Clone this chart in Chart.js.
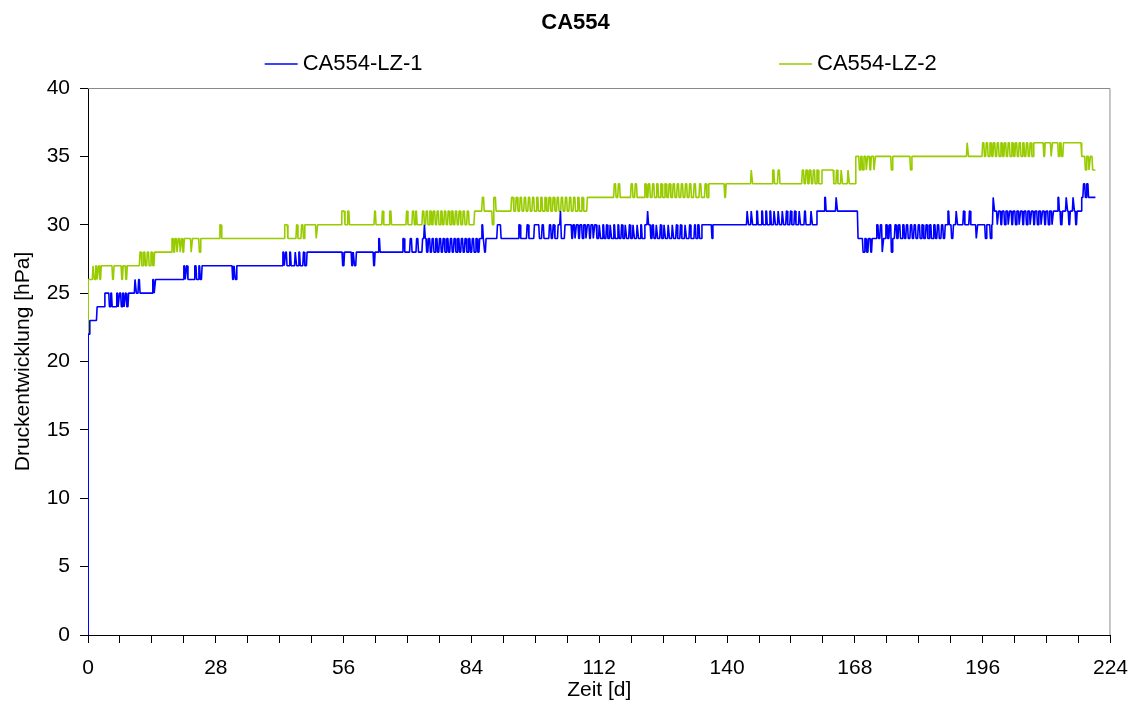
<!DOCTYPE html>
<html>
<head>
<meta charset="utf-8">
<script src="https://cdn.jsdelivr.net/npm/chart.js@4/dist/chart.umd.min.js"></script>
<style>
  html, body { margin: 0; padding: 0; background: #ffffff; }
  #wrap { width: 1141px; height: 706px; position: relative; }
</style>
</head>
<body>
<div id="wrap"><canvas id="chart"></canvas></div>
<script>
// Axis tick labels
const xTickLabels = [0, 28, 56, 84, 112, 140, 168, 196, 224];
const yTickLabels = [0, 5, 10, 15, 20, 25, 30, 35, 40];

// CA554-LZ-1: pressure steps (day where a new reading starts, reading in hPa)
const lz1Days = [
  0, 0.1, 0.4, 2.0,
  3.7, 4.7, 5.0, 5.3, 6.3, 6.6, 6.9, 7.3, 7.6, 7.9, 8.2, 8.5, 8.9,
  10.3, 10.6, 11.1, 11.4, 14.2, 14.5, 14.8,
  21.0, 21.3, 21.6, 21.9, 23.4, 23.8, 24.3, 24.6, 25.0, 31.7, 32.0, 32.3, 32.6,
  42.7, 43.0, 43.3, 43.6, 44.2, 44.5, 45.4, 45.7, 46.2, 46.5, 47.2, 47.5, 48.0,
  55.8, 56.2, 57.8, 58.1, 58.4, 58.8, 62.6, 62.9, 63.7, 64.0,
  69.0, 69.4, 70.6, 71.0, 72.0, 72.4, 73.3, 73.7, 73.9,
  74.2, 74.6, 75.0, 75.4, 75.8, 76.2, 76.6, 77.0, 77.4, 77.8, 78.2, 78.6, 79.0, 79.4, 79.8,
  80.2, 80.6, 81.0, 81.4, 81.8, 82.2, 82.6, 83.0, 83.4, 83.8, 84.2, 84.6, 85.0, 85.4, 85.8,
  86.3, 86.6, 86.9, 87.2, 89.7, 90.5,
  94.4, 94.8, 96.2, 96.6, 97.8, 98.9, 99.5, 99.9, 101.1, 101.5, 101.9, 102.3, 103.0, 103.5, 103.7, 104.5,
  106.0, 106.3, 106.7, 107.0, 107.5, 107.8, 108.3, 108.6, 109.1, 109.4, 109.9, 110.2, 110.7, 111.0, 111.5,
  112.0, 112.3, 112.8, 113.1, 113.6, 113.9, 114.4, 114.7, 115.2, 115.5, 116.1, 116.4, 116.9,
  117.2, 117.7, 118.0, 118.6, 118.9, 119.4, 119.7, 120.3, 120.6, 121.1, 121.4, 122.0,
  122.6, 122.8, 123.3,
  123.7, 124.0, 124.5, 124.8, 125.4, 125.7, 126.2, 126.5, 127.1, 127.4, 128.0, 128.3, 128.9,
  129.2, 129.8, 130.1, 130.8, 131.1, 131.8, 132.1, 132.9, 133.2, 133.6, 134.0, 134.5,
  136.7, 136.9,
  144.4, 144.7, 145.3, 145.6, 146.5, 146.8, 147.6, 147.9, 148.5, 148.8, 149.4, 149.7, 150.3, 150.6, 151.2, 151.5,
  152.1, 152.4, 153.0, 153.3, 153.9, 154.2, 154.8, 155.1, 155.8, 156.1, 157.0, 157.3, 158.4, 158.7, 159.7,
  161.4, 161.7, 163.9, 164.2, 168.7,
  169.8, 170.2, 170.6, 171.0, 171.5, 171.8,
  172.8, 173.2, 173.6, 174.0, 174.3, 174.8, 175.2, 175.6, 176.0, 176.3,
  176.8, 177.2, 177.6, 178.0, 178.5, 178.9, 179.3, 179.7, 180.2, 180.6, 181.0, 181.4, 181.9, 182.3,
  182.7, 183.1, 183.6, 184.0, 184.4, 184.8, 185.3, 185.7, 186.1, 186.5, 187.0, 187.4, 187.8,
  188.4, 188.7, 189.2, 189.6, 190.2, 190.5, 191.8, 192.1, 193.1, 193.4, 194.6, 194.9, 196.6, 196.9, 197.7, 198.0, 198.3, 198.6,
  199.2, 199.5, 200.0, 200.3, 200.8, 201.1, 201.6, 201.9, 202.4, 202.7, 203.2, 203.5, 204.0, 204.3, 204.8, 205.1,
  205.6, 205.9, 206.4, 206.7, 207.2, 207.5, 208.0, 208.3, 208.8, 209.1, 209.6, 209.9, 210.4, 210.7, 211.2, 211.5,
  212.5, 212.8, 213.1, 213.5, 214.3, 214.6, 214.9, 215.2, 215.8, 216.1, 216.4, 216.7, 217.7, 218.1, 218.5, 218.8, 219.2, 220.7
];
const lz1Values = [
  0, 22, 23, 24,
  25, 24, 25, 24, 25, 24, 25, 24, 25, 24, 25, 24, 25,
  26, 25, 26, 25, 26, 25, 26,
  27, 26, 27, 26, 27, 26, 27, 26, 27, 26, 27, 26, 27,
  28, 27, 28, 27, 28, 27, 28, 27, 28, 27, 28, 27, 28,
  27, 28, 27, 28, 27, 28, 27, 28, 29, 28,
  29, 28, 29, 28, 29, 28, 29, 30, 29,
  28, 29, 28, 29, 28, 29, 28, 29, 28, 29, 28, 29, 28, 29, 28,
  29, 28, 29, 28, 29, 28, 29, 28, 29, 28, 29, 28, 29, 28, 29,
  30, 29, 28, 29, 30, 29,
  30, 29, 30, 29, 30, 29, 30, 29, 30, 29, 30, 29, 30, 31, 29, 30,
  29, 30, 29, 30, 29, 30, 29, 30, 29, 30, 29, 30, 29, 30, 29,
  30, 29, 30, 29, 30, 29, 30, 29, 30, 29, 30, 29, 30,
  29, 30, 29, 30, 29, 30, 29, 30, 29, 30, 29, 30,
  31, 30, 29,
  30, 29, 30, 29, 30, 29, 30, 29, 30, 29, 30, 29, 30,
  29, 30, 29, 30, 29, 30, 29, 30, 29, 30, 29, 30,
  29, 30,
  31, 30, 31, 30, 31, 30, 31, 30, 31, 30, 31, 30, 31, 30, 31, 30,
  31, 30, 31, 30, 31, 30, 31, 30, 31, 30, 31, 30, 31, 30, 31,
  32, 31, 32, 31, 29,
  28, 29, 28, 29, 28, 29,
  30, 29, 30, 28, 29, 30, 29, 30, 28, 29,
  30, 29, 30, 29, 30, 29, 30, 29, 30, 29, 30, 29, 30, 29,
  30, 29, 30, 29, 30, 29, 30, 29, 30, 29, 30, 29, 30,
  31, 30, 29, 30, 31, 30, 31, 30, 31, 30, 29, 30, 29, 30, 29, 30, 32, 31,
  30, 31, 30, 31, 30, 31, 30, 31, 30, 31, 30, 31, 30, 31, 30, 31,
  30, 31, 30, 31, 30, 31, 30, 31, 30, 31, 30, 31, 30, 31, 30, 31,
  32, 31, 30, 31, 32, 31, 30, 31, 32, 31, 30, 31, 32, 33, 32, 33, 32, 32
];

// CA554-LZ-2: pressure steps (day where a new reading starts, reading in hPa)
const lz2Days = [
  0, 0.1,
  1.1, 1.4, 1.7, 2.0, 2.3, 2.6, 2.9, 5.4, 5.7, 7.4, 7.7, 8.3, 8.6,
  11.4, 11.8, 12.2, 12.6, 13.0, 13.4, 13.8, 14.2, 14.6,
  18.4, 18.8, 19.1, 19.5, 19.8, 20.2, 20.5, 20.8, 21.1, 22.6, 22.9, 24.4, 24.7, 28.9, 29.3,
  43.1, 43.8, 45.7, 46.0, 46.8, 47.2, 47.5, 50.0, 50.3,
  55.6, 56.3, 56.9, 57.3, 62.8, 63.1, 64.5, 64.8, 66.1, 66.5, 69.8, 70.1, 71.1, 71.5, 71.8, 72.1,
  73.3, 73.7, 74.1, 74.5, 74.9, 75.3, 75.7, 76.1, 76.5, 76.9, 77.3, 77.7, 78.1, 78.5,
  78.9, 79.3, 79.7, 80.1, 80.5, 80.9, 81.3, 81.7, 82.2, 82.6, 83.1, 83.5, 84.7,
  86.4, 86.8, 88.6, 88.9, 89.4,
  92.8, 93.3, 93.8, 94.2, 94.7, 95.1, 95.6, 96.0, 96.5, 96.9, 97.4, 97.8, 98.3, 98.7, 99.2, 99.6, 100.1, 100.5, 101.0,
  101.4, 101.9, 102.3, 102.8, 103.2, 103.7, 104.1, 104.6, 105.0, 105.5, 105.9, 106.4, 106.8, 107.3, 107.7, 108.2, 108.6, 109.4,
  115.3, 115.7, 116.2, 116.6, 119.0, 119.4, 119.9, 120.3,
  122.0, 122.4, 122.8, 123.2, 123.7, 124.1, 124.6, 125.0, 125.5, 125.9, 126.4, 126.8, 127.3, 127.7, 128.2, 128.6,
  129.1, 129.5, 130.0, 130.4, 130.9, 131.3, 131.8, 132.2, 132.8, 133.2, 134.0, 134.4, 135.2, 135.6, 136.0,
  139.5, 139.8, 145.3, 145.6, 150.0, 150.4, 151.2, 151.6,
  156.5, 156.9, 157.3, 157.7, 158.1, 158.5, 158.9, 159.3, 159.7, 160.1, 160.8, 163.4, 164.0, 164.3, 165.0, 165.3, 166.5, 166.8,
  168.2, 169.0, 169.3, 169.7, 170.0, 170.5, 170.8, 171.3, 171.6, 172.2, 172.5, 176.0, 176.3, 180.2, 180.5,
  192.6, 192.9, 196.0, 196.4, 196.8, 197.2, 197.6, 198.0, 198.4, 198.8, 199.2, 199.6, 200.0, 200.4, 200.8, 201.2,
  201.6, 202.0, 202.4, 202.8, 203.2, 203.6, 204.0, 204.4, 204.8, 205.2, 205.6, 206.0, 206.4, 206.8, 207.2,
  209.4, 209.7, 211.0, 211.3, 212.6, 212.9, 213.3, 213.7, 217.7, 218.5, 218.8, 219.3, 219.6, 220.1, 220.7
];
const lz2Values = [
  0, 26,
  27, 26, 27, 26, 27, 26, 27, 26, 27, 26, 27, 26, 27,
  28, 27, 28, 27, 28, 27, 28, 27, 28,
  29, 28, 29, 28, 29, 28, 29, 28, 29, 28, 29, 28, 29, 30, 29,
  30, 29, 30, 29, 30, 29, 30, 29, 30,
  31, 30, 31, 30, 31, 30, 31, 30, 31, 30, 31, 30, 31, 30, 31, 30,
  31, 30, 31, 30, 31, 30, 31, 30, 31, 30, 31, 30, 31, 30,
  31, 30, 31, 30, 31, 30, 31, 30, 31, 30, 31, 30, 31,
  32, 31, 30, 32, 31,
  32, 31, 32, 31, 32, 31, 32, 31, 32, 31, 32, 31, 32, 31, 32, 31, 32, 31, 32,
  31, 32, 31, 32, 31, 32, 31, 32, 31, 32, 31, 32, 31, 32, 31, 32, 31, 32,
  33, 32, 33, 32, 33, 32, 33, 32,
  33, 32, 33, 32, 33, 32, 33, 32, 33, 32, 33, 32, 33, 32, 33, 32,
  33, 32, 33, 32, 33, 32, 33, 32, 33, 32, 33, 32, 33, 32, 33,
  32, 33, 34, 33, 34, 33, 34, 33,
  34, 33, 34, 33, 34, 33, 34, 33, 34, 33, 34, 33, 34, 33, 34, 33, 34, 33,
  35, 34, 35, 34, 35, 34, 35, 34, 35, 34, 35, 34, 35, 34, 35,
  36, 35, 36, 35, 36, 35, 36, 35, 36, 35, 36, 35, 36, 35, 36, 35,
  36, 35, 36, 35, 36, 35, 36, 35, 36, 35, 36, 35, 36, 35, 36,
  35, 36, 35, 36, 35, 36, 35, 36, 35, 34, 35, 34, 35, 34, 34
];

const seriesNames = ['CA554-LZ-1', 'CA554-LZ-2'];
const seriesColors = ['#0000ff', '#99cc00'];
const chartTitle = 'CA554';

// The logger samples several times per day: a new reading is reached over
// one sampling interval, so each change is drawn as a short ramp.
const SAMPLE_INTERVAL = 0.15; // days

const FONT = "'Liberation Sans', Arial, Helvetica, sans-serif";
Chart.defaults.font.family = FONT;
Chart.defaults.color = '#000000';

function toPoints(days, values) {
  const pts = [{ x: days[0], y: values[0] }];
  for (let i = 1; i < days.length; i++) {
    const rampStart = Math.max(days[i - 1], days[i] - SAMPLE_INTERVAL);
    pts.push({ x: rampStart, y: values[i - 1] });
    pts.push({ x: days[i], y: values[i] });
  }
  return pts;
}

// Title, legend row and the grey top/right frame of the plot area
const decorPlugin = {
  id: 'decor',
  afterDraw(chart) {
    const { ctx, chartArea: a, width } = chart;
    ctx.save();
    // plot frame (top and right edges)
    ctx.strokeStyle = '#8a8a8a';
    ctx.lineWidth = 1;
    ctx.beginPath();
    ctx.moveTo(a.left, a.top + 0.5);
    ctx.lineTo(a.right - 0.5, a.top + 0.5);
    ctx.lineTo(a.right - 0.5, a.bottom);
    ctx.stroke();

    // title
    ctx.fillStyle = '#000';
    ctx.textAlign = 'center';
    ctx.textBaseline = 'middle';
    ctx.font = 'bold 22px ' + FONT;
    ctx.fillText(chartTitle, width / 2 + 5, 23);

    // legend
    const w = a.right - a.left;
    const starts = [a.left + 0.1728 * w, a.left + 0.6758 * w];
    ctx.font = '22px ' + FONT;
    ctx.textAlign = 'left';
    chart.data.datasets.forEach((ds, i) => {
      const x0 = starts[i];
      const y = 64;
      ctx.strokeStyle = ds.borderColor;
      ctx.lineWidth = 1.5;
      ctx.beginPath();
      ctx.moveTo(x0, y);
      ctx.lineTo(x0 + 33, y);
      ctx.stroke();
      ctx.fillStyle = '#000';
      ctx.fillText(ds.label, x0 + 38, y);
    });
    ctx.restore();
  }
};

new Chart(document.getElementById('chart'), {
  type: 'line',
  data: {
    datasets: [
      {
        label: seriesNames[0],
        data: toPoints(lz1Days, lz1Values),
        borderColor: seriesColors[0],
        backgroundColor: seriesColors[0],
        borderWidth: 1.6,
        borderJoinStyle: 'bevel',
        pointRadius: 0,
        tension: 0,
        fill: false
      },
      {
        label: seriesNames[1],
        data: toPoints(lz2Days, lz2Values),
        borderColor: seriesColors[1],
        backgroundColor: seriesColors[1],
        borderWidth: 1.6,
        borderJoinStyle: 'bevel',
        pointRadius: 0,
        tension: 0,
        fill: false
      }
    ]
  },
  options: {
    responsive: true,
    maintainAspectRatio: false,
    animation: false,
    devicePixelRatio: 1,
    layout: { padding: { top: 88, right: 29, left: 0, bottom: 0 } },
    plugins: {
      legend: { display: false },
      title: { display: false },
      tooltip: { enabled: false }
    },
    scales: {
      x: {
        type: 'linear',
        min: xTickLabels[0],
        max: xTickLabels[xTickLabels.length - 1],
        ticks: {
          stepSize: 7,
          autoSkip: false,
          maxRotation: 0,
          color: '#000',
          padding: 13,
          font: { size: 21 },
          callback: (v) => (xTickLabels.includes(v) ? String(v) : '')
        },
        grid: { drawOnChartArea: false, drawTicks: true, tickLength: 8, color: '#000' },
        border: { display: true, color: '#000', width: 1 },
        title: {
          display: true,
          text: 'Zeit [d]',
          color: '#000',
          font: { size: 21 },
          padding: { top: 0, bottom: 3 }
        },
        afterFit(scale) { scale.height = 71; }
      },
      y: {
        min: yTickLabels[0],
        max: yTickLabels[yTickLabels.length - 1],
        ticks: {
          stepSize: 5,
          color: '#000',
          padding: 10,
          font: { size: 21 },
          callback: (v) => (yTickLabels.includes(v) ? String(v) : '')
        },
        grid: { drawOnChartArea: false, drawTicks: true, tickLength: 8, color: '#000' },
        border: { display: true, color: '#000', width: 1 },
        title: {
          display: true,
          text: 'Druckentwicklung [hPa]',
          color: '#000',
          font: { size: 21 },
          padding: { top: 11, bottom: 0 }
        },
        afterFit(scale) { scale.width = 88; }
      }
    }
  },
  plugins: [decorPlugin]
});
</script>
</body>
</html>
